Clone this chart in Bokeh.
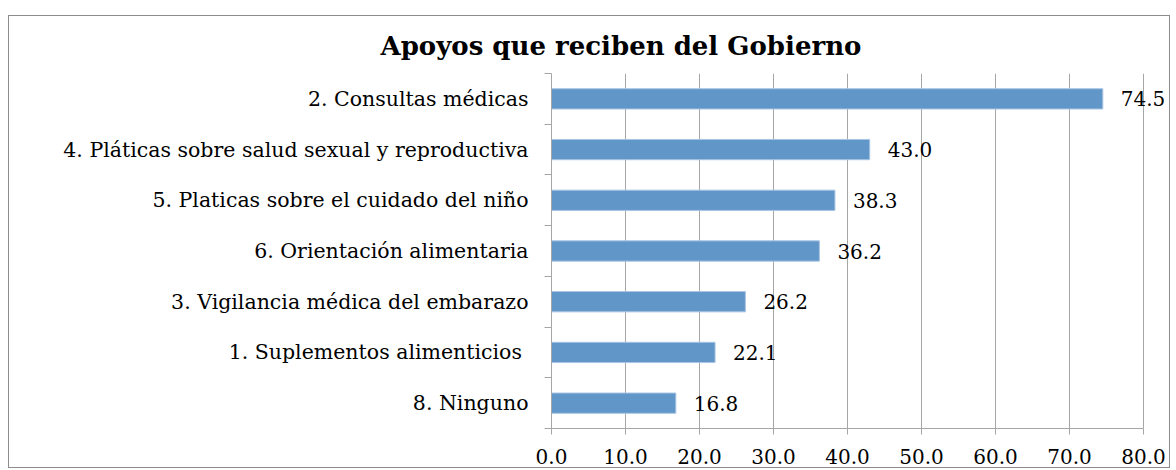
from bokeh.plotting import figure
from bokeh.models import FixedTicker, ColumnDataSource, LabelSet, Range1d, Title
from bokeh.core.properties import value
from bokeh.embed import file_html
from bokeh.resources import INLINE

categories = ["8. Ninguno", "1. Suplementos alimenticios ", "3. Vigilancia médica del embarazo",
              "6. Orientación alimentaria", "5. Platicas sobre el cuidado del niño",
              "4. Pláticas sobre salud sexual y reproductiva", "2. Consultas médicas"]
values = [16.8, 22.1, 26.2, 36.2, 38.3, 43.0, 74.5]
x_ticks = [0, 10, 20, 30, 40, 50, 60, 70, 80]
title_text = "Apoyos que reciben del Gobierno"

FONT = "DejaVu Serif"
GRID = "#a6a6a6"

pos = [i + 0.5 for i in range(len(categories))]
src = ColumnDataSource(dict(y=pos, v=values, lab=["%.1f" % v for v in values]))

p = figure(width=1162, height=453, output_backend="svg", toolbar_location=None,
           x_range=Range1d(0, 83.51), y_range=Range1d(0, len(categories)),
           min_border_left=542, min_border_right=2, min_border_top=57, min_border_bottom=41)
p.margin = (15, 0, 0, 8)
p.styles = {"border": "1px solid #8c8c8c"}
p.outline_line_color = None
p.background_fill_color = "white"

p.hbar(y="y", right="v", left=0, height=0.4, source=src, fill_color="#6196c9",
       line_color="#a9c5e3", line_width=1)

p.add_layout(LabelSet(x="v", y="y", text="lab", source=src, x_offset=18,
                      text_baseline="middle", text_align="left",
                      text_font=value(FONT), text_font_size="20px", text_color="black"))

# axes
p.xaxis.ticker = FixedTicker(ticks=x_ticks)
p.xaxis.bounds = (0, 80)
p.xaxis.major_label_overrides = {t: "%.1f" % t for t in x_ticks}
p.xaxis.minor_tick_line_color = None
p.xaxis.major_tick_out = 6
p.xaxis.major_tick_in = 0
p.xaxis.axis_line_color = GRID
p.xaxis.major_tick_line_color = GRID
p.xaxis.major_label_text_font = FONT
p.xaxis.major_label_text_font_size = "20px"
p.xaxis.major_label_text_color = "black"
p.xaxis.major_label_standoff = 14

p.yaxis.ticker = FixedTicker(ticks=pos, minor_ticks=list(range(len(categories) + 1)))
p.yaxis.major_label_overrides = {pv: c for pv, c in zip(pos, categories)}
p.yaxis.major_tick_out = 0
p.yaxis.major_tick_in = 0
p.yaxis.minor_tick_out = 7
p.yaxis.minor_tick_in = 0
p.yaxis.minor_tick_line_color = GRID
p.yaxis.axis_line_color = GRID
p.yaxis.major_label_text_font = FONT
p.yaxis.major_label_text_font_size = "20.5px"
p.yaxis.major_label_text_color = "black"
p.yaxis.major_label_standoff = 16

p.xgrid.ticker = FixedTicker(ticks=x_ticks)
p.xgrid.bounds = (0, 80)
p.xgrid.grid_line_color = GRID
p.ygrid.grid_line_color = None

p.add_layout(Title(text=title_text, align="left", offset=-171, standoff=22,
                   vertical_align="top",
                   text_font=FONT, text_font_style="bold", text_font_size="26px",
                   text_color="black"), "above")

open("out.html", "w").write(file_html(p, INLINE))
